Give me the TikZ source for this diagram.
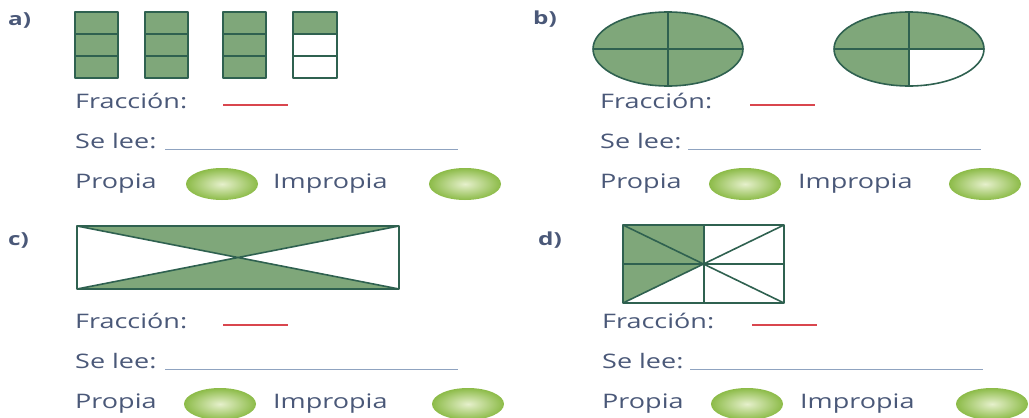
\documentclass[tikz,border=0pt]{standalone}
\usepackage{fontspec}
\setmainfont{Open Sans}
\newfontfamily\anchafont[FakeStretch=1.35]{Open Sans}
\definecolor{txtgris}{HTML}{4A5878}
\definecolor{verdefr}{HTML}{7FA77A}
\definecolor{bordefr}{HTML}{2F6150}
\definecolor{botonout}{HTML}{8CBB48}
\definecolor{botonin}{HTML}{E6F0CC}
\definecolor{rojofr}{HTML}{D9464E}
\definecolor{lineagris}{HTML}{8FA3C0}
\tikzset{
  lbl/.style={anchor=base west, inner sep=0pt, text=txtgris, font=\anchafont\fontsize{20}{24}\selectfont},
  letra/.style={anchor=base west, inner sep=0pt, text=txtgris, font=\anchafont\fontsize{18}{22}\selectfont\bfseries},
  parte/.style={draw=bordefr, line width=1.6pt, line join=round},
  relleno/.style={fill=verdefr},
  boton/.style={inner color=botonin, outer color=botonout},
  rojalinea/.style={draw=rojofr, line width=1.2pt},
  grislinea/.style={draw=lineagris, line width=0.9pt}
}
\begin{document}
\begin{tikzpicture}[x=1pt, y=-1pt]
  \useasboundingbox (0,0) rectangle (1029,418);

  % a) tres enteros y un tercio
  \node[letra] (la) at (8,25) {a)};
  \foreach \xa in {75,145,223} {
    \draw[parte, relleno] (\xa,12) rectangle ++(43,66);
    \draw[parte] (\xa,34) -- ++(43,0) (\xa,56) -- ++(43,0);
  }
  \fill[relleno] (293,12) rectangle (337,34);
  \draw[parte] (293,12) rectangle (337,78);
  \draw[parte] (293,34) -- (337,34) (293,56) -- (337,56);

  % b) circulos en cuartos
  \node[letra] (lb) at (533,24) {b)};
  \draw[parte, relleno] (668,49) ellipse (75 and 37);
  \draw[parte] (668,12) -- (668,86) (593,49) -- (743,49);
  \fill[relleno] (909,49) -- (909,86) arc (90:360:75 and 37) -- cycle;
  \draw[parte] (909,49) ellipse (75 and 37);
  \draw[parte] (909,12) -- (909,86) (834,49) -- (984,49);

  % c) rectangulo con diagonales
  \node[letra] (lc) at (8,245) {c)};
  \fill[relleno] (77,226) -- (399,226) -- (238,257) -- cycle;
  \fill[relleno] (77,289) -- (399,289) -- (238,257) -- cycle;
  \draw[parte] (77,226) rectangle (399,289);
  \draw[parte] (77,226) -- (399,289) (77,289) -- (399,226);

  % d) rectangulo en octavos
  \node[letra] (ld) at (538,245) {d)};
  \fill[relleno] (623,225) -- (704,225) -- (704,264) -- (623,303) -- cycle;
  \draw[parte] (623,225) rectangle (784,303);
  \draw[parte] (704,225) -- (704,303) (623,264) -- (784,264);
  \draw[parte] (623,225) -- (784,303) (623,303) -- (784,225);

  % renglones de respuesta
  \foreach \px/\py/\rx/\sx/\ba/\bb/\q in {75/0/223/165/222/465/a,600/0/750/688/745/985/b,75/220/223/165/220/468/c,602/220/752/690/747/992/d} {
    \node[lbl] (fr\q) at (\px,108+\py) {Fracción:};
    \draw[rojalinea] (\rx,105+\py) -- ++(65,0);
    \node[lbl] (se\q) at (\px,148+\py) {Se lee:};
    \draw[grislinea] (\sx,149+\py) -- ++(293,0);
    \node[lbl] (pr\q) at (\px,188+\py) {Propia};
    \shade[boton] (\ba,184+\py) ellipse (36 and 16);
    \node[lbl] (im\q) at (\px+198,188+\py) {Impropia};
    \shade[boton] (\bb,184+\py) ellipse (36 and 16);
  }
\end{tikzpicture}
\end{document}
